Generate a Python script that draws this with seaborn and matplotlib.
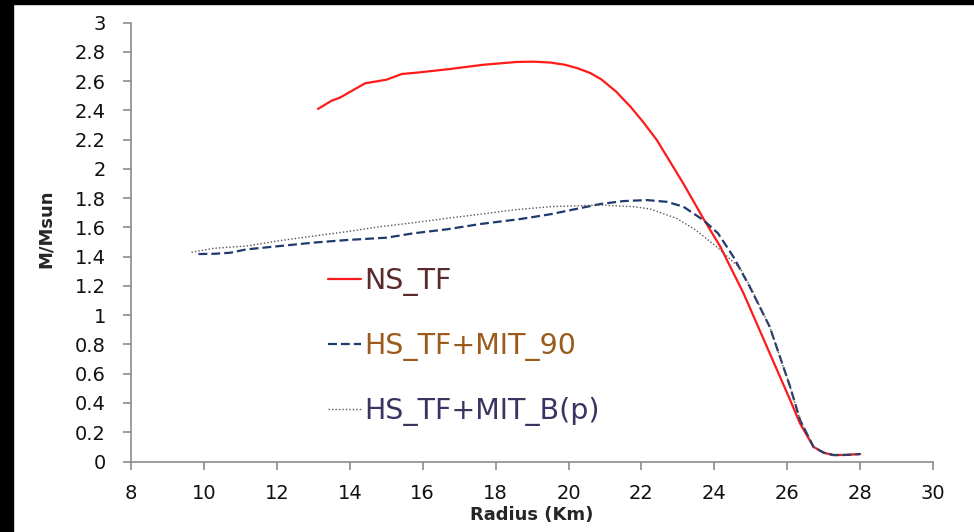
import matplotlib
matplotlib.use("Agg")
import matplotlib.pyplot as plt
import seaborn as sns
import pandas as pd
from matplotlib.patches import Rectangle

# ---- data ----
ns_r = [13.13, 13.5, 13.73, 14.42, 15.01, 15.43, 15.84, 16.75, 17.67, 18.58, 19.04, 19.5,
        19.9, 20.25, 20.6, 20.9, 21.3, 21.7, 22.05, 22.42, 23.15, 23.7, 24.16, 24.8, 25.44,
        26.08, 26.35, 26.72, 27.0, 27.27, 27.6, 28.0]
ns_m = [2.41, 2.466, 2.487, 2.585, 2.61, 2.649, 2.658, 2.683, 2.712, 2.731, 2.733, 2.727,
        2.712, 2.688, 2.655, 2.612, 2.53, 2.425, 2.32, 2.198, 1.90, 1.66, 1.47, 1.15, 0.785,
        0.42, 0.26, 0.10, 0.06, 0.044, 0.045, 0.051]

hs90_r = [9.85, 10.3, 10.72, 11.17, 12.09, 13.0, 13.92, 15.01, 15.75, 16.66, 17.57, 18.67,
          19.5, 20.87, 21.5, 22.15, 22.7, 23.15, 23.7, 24.1, 24.52, 24.97, 25.52, 26.08,
          26.35, 26.72, 27.0, 27.27, 27.6, 28.0]
hs90_m = [1.418, 1.42, 1.427, 1.45, 1.473, 1.496, 1.514, 1.53, 1.56, 1.587, 1.623, 1.657,
          1.69, 1.76, 1.78, 1.787, 1.775, 1.742, 1.65, 1.56, 1.40, 1.195, 0.92, 0.51,
          0.284, 0.10, 0.06, 0.044, 0.045, 0.051]

hsb_r = [9.66, 10.26, 11.17, 12.09, 13.0, 13.92, 14.83, 15.75, 16.66, 17.57, 18.5, 19.5,
         20.87, 21.78, 22.24, 22.97, 23.5, 24.06, 24.71, 25.0, 25.52, 26.08, 26.35, 26.72,
         27.0, 27.27, 27.6, 28.0]
hsb_m = [1.43, 1.457, 1.473, 1.51, 1.541, 1.571, 1.605, 1.632, 1.662, 1.69, 1.72, 1.742,
         1.753, 1.742, 1.726, 1.662, 1.58, 1.468, 1.32, 1.19, 0.92, 0.51, 0.284, 0.10,
         0.06, 0.044, 0.045, 0.051]

labels = ["NS_TF", "HS_TF+MIT_90", "HS_TF+MIT_B(p)"]
label_colors = ["#5b2b2b", "#9a5b1c", "#3b3463"]

x_ticks = [8, 10, 12, 14, 16, 18, 20, 22, 24, 26, 28, 30]
y_ticks = [0, 0.2, 0.4, 0.6, 0.8, 1, 1.2, 1.4, 1.6, 1.8, 2, 2.2, 2.4, 2.6, 2.8, 3]

sns.set_theme(style="white")
plt.rcParams["font.family"] = ["DejaVu Sans"]

fig = plt.figure(figsize=(9.74, 5.32), dpi=100)
ax = fig.add_axes([0.1345, 0.1325, 0.8235, 0.825])

df_ns = pd.DataFrame({"r": ns_r, "m": ns_m})
df_90 = pd.DataFrame({"r": hs90_r, "m": hs90_m})
df_b = pd.DataFrame({"r": hsb_r, "m": hsb_m})

sns.lineplot(data=df_ns, x="r", y="m", sort=False, ax=ax, color="#ff1a1a", lw=1.6,
             label=labels[0])
sns.lineplot(data=df_90, x="r", y="m", sort=False, ax=ax, color="#1f3a6e", lw=1.6,
             linestyle=(0, (4, 1.8)), label=labels[1])
sns.lineplot(data=df_b, x="r", y="m", sort=False, ax=ax, color="#555555", lw=1.0,
             linestyle=(0, (1, 1.5)), label=labels[2])

ax.set_xlim(8, 30)
ax.set_ylim(0, 3)
ax.set_xticks(x_ticks)
ax.set_xticklabels([str(t) for t in x_ticks])
ax.set_yticks(y_ticks)
ax.set_yticklabels([f"{t:g}" for t in y_ticks])

for s in ["top", "right"]:
    ax.spines[s].set_visible(False)
for s in ["left", "bottom"]:
    ax.spines[s].set_color("#8c8c8c")
    ax.spines[s].set_linewidth(1.2)
ax.tick_params(axis="both", which="major", direction="out", length=6, width=1.2,
               color="#8c8c8c", labelsize=14, labelcolor="#111111", left=True, bottom=True)
ax.tick_params(axis="y", pad=12)
ax.tick_params(axis="x", pad=10)

ax.set_xlabel("Radius (Km)", fontsize=13, fontweight="bold", labelpad=2)
ax.set_ylabel("M/Msun", fontsize=13, fontweight="bold")
ax.yaxis.set_label_coords(-0.095, 0.53)

leg = ax.legend(loc="upper left", bbox_to_anchor=(0.232, 0.47), frameon=False,
                borderaxespad=0, fontsize=20.5, handlelength=1.15, handletextpad=0.12,
                labelspacing=1.27, labelcolor=label_colors)

# black image border strips of the reference
fig.patches.append(Rectangle((0, 0), 13 / 974, 1, transform=fig.transFigure,
                             color="black", zorder=10))
fig.patches.append(Rectangle((0, 1 - 4 / 532), 1, 4 / 532, transform=fig.transFigure,
                             color="black", zorder=10))

fig.savefig("out.png", dpi=100)
